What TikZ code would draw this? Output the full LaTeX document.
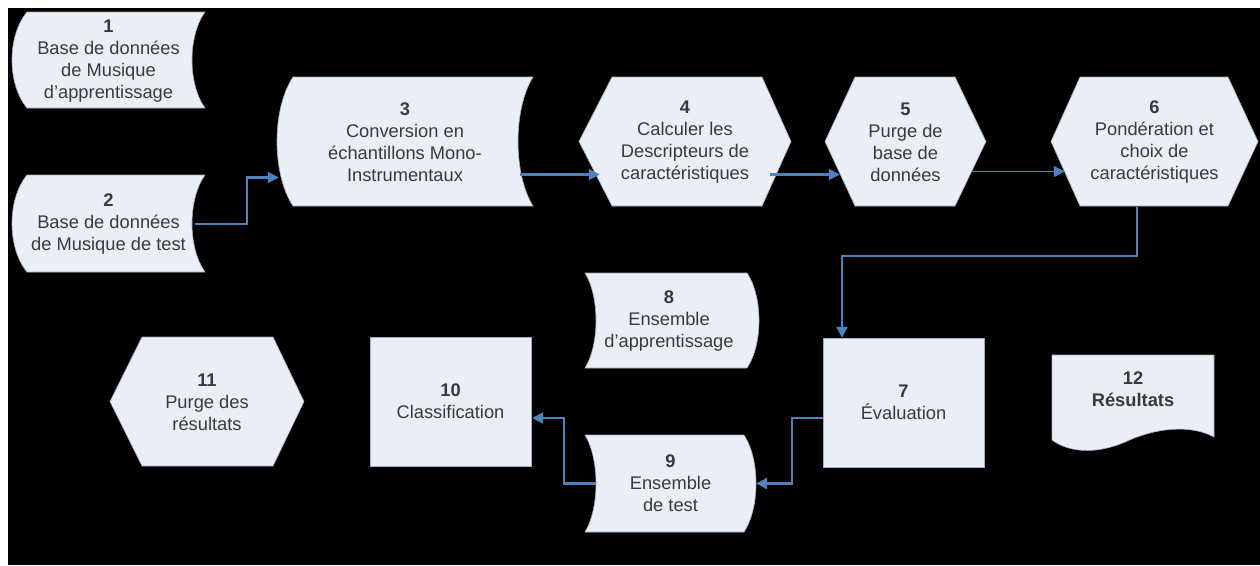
\documentclass[tikz,border=0pt]{standalone}
\usepackage{fontspec}
\setmainfont{Liberation Sans}
\usetikzlibrary{arrows.meta,calc}
\definecolor{boxfill}{RGB}{234,239,247}
\definecolor{boxline}{RGB}{165,170,180}
\definecolor{txt}{RGB}{58,58,58}
\definecolor{conncol}{RGB}{79,129,189}
\tikzset{
  shp/.style={fill=boxfill, draw=boxline, line width=0.6pt},
  lbl/.style={draw=none, inner sep=0pt, align=center, text=txt, font=\fontsize{18.3}{22}\selectfont},
  link/.style={draw=conncol, line width=2.2pt, -{Triangle[width=11pt,length=11pt]}},
}
% left convex, right concave
\newcommand\shapeA[6]{\path[shp] (#1,#2) -- (#3,#2)
  .. controls ({#3-4*#6/3},{#2+(#4-#2)/4}) and ({#3-4*#6/3},{#4-(#4-#2)/4}) .. (#3,#4) -- (#1,#4)
  .. controls ({#1-4*#5/3},{#4-(#4-#2)/4}) and ({#1-4*#5/3},{#2+(#4-#2)/4}) .. cycle;}
% left concave, right convex
\newcommand\shapeB[6]{\path[shp] (#1,#2) -- (#3,#2)
  .. controls ({#3+4*#6/3},{#2+(#4-#2)/4}) and ({#3+4*#6/3},{#4-(#4-#2)/4}) .. (#3,#4) -- (#1,#4)
  .. controls ({#1+4*#5/3},{#4-(#4-#2)/4}) and ({#1+4*#5/3},{#2+(#4-#2)/4}) .. cycle;}
\newcommand\hexa[6]{\path[shp] (#1,{(#5+#6)/2}) -- (#2,#5) -- (#3,#5) -- (#4,{(#5+#6)/2}) -- (#3,#6) -- (#2,#6) -- cycle;}
\begin{document}
\begin{tikzpicture}[x=1pt,y=-1pt]
\useasboundingbox (0,0) rectangle (1260,565);
\fill[white] (0,0) rectangle (1260,565);
\fill[black] (8,8) rectangle (1260,565);
% shapes
\shapeA{27}{12}{205}{108}{15}{13}
\shapeA{27}{175}{205}{272}{15}{13}
\shapeA{293}{77}{533}{206}{16}{15}
\hexa{579}{612}{762}{791}{77}{206}
\hexa{825}{855}{955}{986}{77}{206}
\hexa{1051}{1080}{1228}{1258}{77}{206}
\shapeB{585}{273}{747}{368}{11}{12}
\shapeB{585}{435}{744}{532}{11}{12}
\path[shp] (823,338) rectangle (984,467);
\path[shp] (370,337) rectangle (531,466);
\hexa{110}{142}{273}{304}{337}{466}
\path[shp] (1052,355) -- (1214,355) -- (1214,437)
  .. controls (1190,424) and (1155,428) .. (1125,442)
  .. controls (1095,455) and (1068,452) .. (1052,440) -- cycle;
% labels
\node[lbl, minimum width=193pt, minimum height=96pt] (n1) at (108.5,61) {\textbf{1}\\Base de données\\de Musique\\d’apprentissage};
\node[lbl, minimum width=193pt, minimum height=97pt] (n2) at (108.5,224) {\textbf{2}\\Base de données\\de Musique de test};
\node[lbl, minimum width=256pt, minimum height=129pt] (n3) at (405,142) {\textbf{3}\\Conversion en\\échantillons Mono-\\Instrumentaux};
\node[lbl, minimum width=212pt, minimum height=129pt] (n4) at (685,142) {\textbf{4}\\Calculer les\\Descripteurs de\\caractéristiques};
\node[lbl, minimum width=161pt, minimum height=129pt] (n5) at (905.5,142) {\textbf{5}\\Purge de\\base de\\données};
\node[lbl, minimum width=207pt, minimum height=129pt] (n6) at (1154.5,142) {\textbf{6}\\Pondération et\\choix de\\caractéristiques};
\node[lbl, minimum width=161pt, minimum height=129pt] (n7) at (903.5,402.5) {\textbf{7}\\Évaluation};
\node[lbl, minimum width=168pt, minimum height=95pt] (n8) at (669,321) {\textbf{8}\\Ensemble\\d’apprentissage};
\node[lbl, minimum width=171pt, minimum height=97pt] (n9) at (670.5,483.5) {\textbf{9}\\Ensemble\\de test};
\node[lbl, minimum width=161pt, minimum height=129pt] (n10) at (450.5,401.5) {\textbf{10}\\Classification};
\node[lbl, minimum width=194pt, minimum height=129pt] (n11) at (207,402) {\textbf{11}\\Purge des\\résultats};
\node[lbl, minimum width=162pt, minimum height=68pt] (n12) at (1133,389) {\textbf{12}\\\textbf{Résultats}};
% connectors
\draw[link] ([xshift=-10pt]n2.east) -- ++(52,0) |- ($(n3.west)+(2,35.5)$);
\draw[link] ($(n3.east)+(-13,32.5)$) -- ($(n4.west)+(21,32.5)$);
\draw[link] ($(n4.east)+(-21,32.5)$) -- ($(n5.west)+(15,32.5)$);
\draw[link, line width=1pt] ($(n5.east)+(-14,29.5)$) -- ($(n6.west)+(14,29.5)$);
\draw[link] ($(n6.south)+(-17.5,0)$) -- ++(0,49) -| ($(n7.north)+(-61.5,0)$);
\draw[link] ($(n7.west)+(0,15.5)$) -- ++(-31,0) |- (n9.east);
\draw[link] ($(n9.west)+(11,0)$) -- ++(-32,0) |- ($(n10.east)+(1,16.5)$);
\end{tikzpicture}
\end{document}
